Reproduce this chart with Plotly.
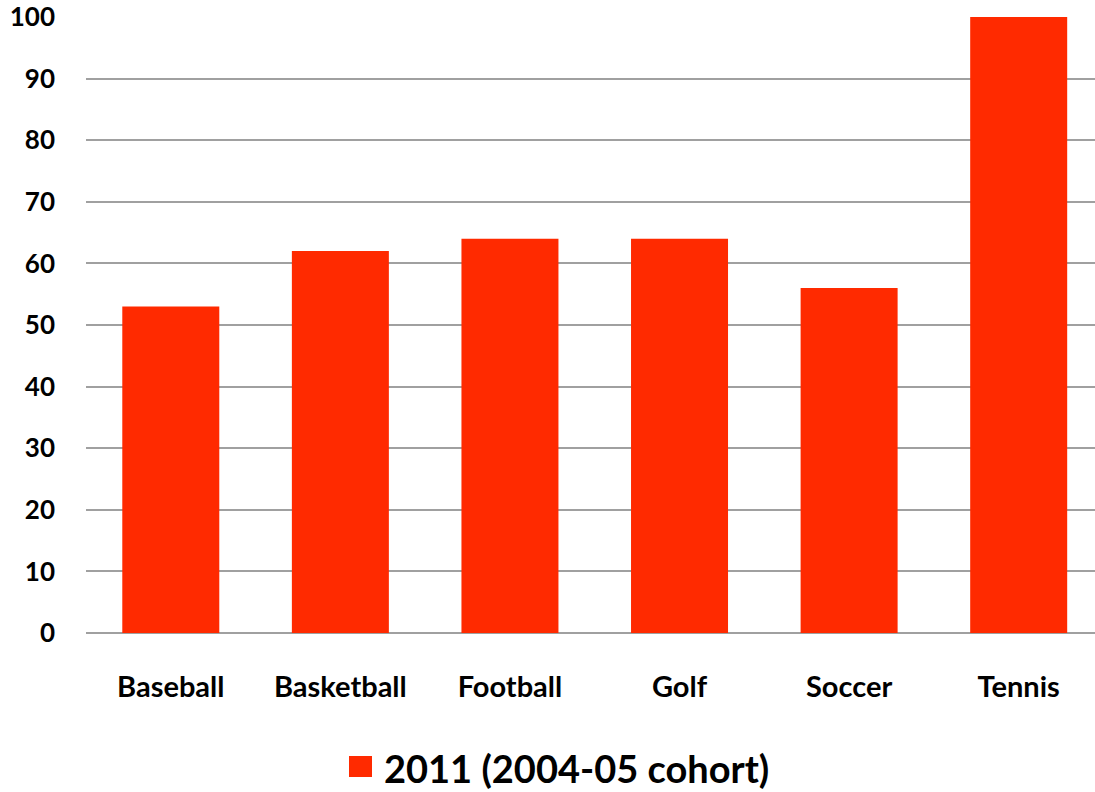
import plotly.graph_objects as go

categories = ["Baseball", "Basketball", "Football", "Golf", "Soccer", "Tennis"]
values = [53, 62, 64, 64, 56, 100]
series_name = "2011 (2004-05 cohort)"
y_ticks = [0, 10, 20, 30, 40, 50, 60, 70, 80, 90, 100]
bar_color = "#FF2A00"

fig = go.Figure()
fig.add_trace(go.Bar(
    x=categories, y=values, name=series_name,
    marker=dict(color=bar_color, line=dict(width=0)),
    showlegend=False,
))

font_family = "Lato, 'Open Sans', sans-serif"

TOP = 17
BOTTOM = 633
PLOT_H = BOTTOM - TOP

# Plot area in pixels: x 86..1095, y TOP..BOTTOM
def px_x(p):
    return (p - 86) / 1009.0

def px_y(p):
    return (BOTTOM - p) / float(PLOT_H)

# Legend drawn as swatch + text (larger swatch than Plotly's built-in legend)
fig.add_shape(type="rect", xref="paper", yref="paper",
              x0=px_x(349), x1=px_x(372), y0=px_y(777), y1=px_y(756),
              fillcolor=bar_color, line=dict(width=0))
fig.add_annotation(xref="paper", yref="paper", x=px_x(382), y=px_y(768),
                   xanchor="left", yanchor="middle", showarrow=False,
                   text=series_name,
                   font=dict(size=38, family=font_family, color="black", weight="bold"))

fig.update_layout(
    width=1095, height=792,
    margin=dict(l=86, r=0, t=TOP, b=792 - BOTTOM),
    plot_bgcolor="white", paper_bgcolor="white",
    bargap=0.428,
    font=dict(family=font_family, color="black"),
    showlegend=False,
    xaxis=dict(range=[-0.5, 5.45], showgrid=False, showline=False, zeroline=False,
               tickfont=dict(size=29, family=font_family, color="black", weight="bold"),
               ticks="", ticklabelstandoff=34, automargin=False),
    yaxis=dict(range=[0, 100], tickvals=y_ticks, showgrid=True, gridcolor="#A0A0A0", gridwidth=2,
               zeroline=True, zerolinecolor="#A0A0A0", zerolinewidth=2, showline=False,
               tickfont=dict(size=26, family=font_family, color="black", weight="bold"),
               ticks="", ticklabelstandoff=30, ticklabeloverflow="allow", automargin=False),
)
fig.write_html("out.html")
